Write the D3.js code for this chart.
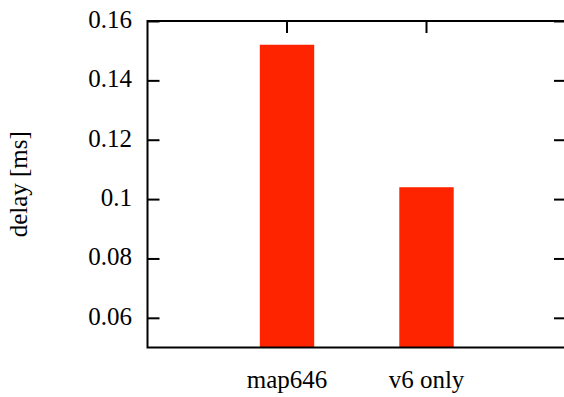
<!DOCTYPE html>
<html lang="en">
<head>
<meta charset="UTF-8">
<title>delay bars</title>
<script src="https://cdn.jsdelivr.net/npm/d3@7/dist/d3.min.js"></script>
<style>
  body { margin: 0; background: #fff; }
</style>
</head>
<body>
<svg></svg>
<script>
var categories = ['map646', 'v6 only'];
var delays = [0.152, 0.104];
var yTicks = [0.06, 0.08, 0.1, 0.12, 0.14, 0.16];

var width = 564, height = 397;
var margin = { top: 21, left: 147.5, bottom: 49.5, right: -2 };
var w = width - margin.left - margin.right;
var h = height - margin.top - margin.bottom;
var serif = '"Liberation Serif", "Times New Roman", Times, serif';
var fontSize = 25;

var svg = d3.select('svg')
    .attr('width', width)
    .attr('height', height)
    .style('display', 'block');

var g = svg.append('g')
    .attr('transform', 'translate(' + margin.left + ',' + margin.top + ')');

// categories sit at 1 and 2 on a 0..3 axis, like gnuplot does
var x = d3.scaleLinear().domain([0, 3]).range([0, w]);
var y = d3.scaleLinear().domain([0.05, 0.16]).range([h, 0]);
var step = x(1) - x(0);
var barW = step * 0.39;

g.selectAll('rect.bar')
    .data(delays)
    .enter().append('rect')
    .attr('class', 'bar')
    .attr('x', function (d, i) { return x(i + 1) - barW / 2; })
    .attr('y', function (d) { return y(d); })
    .attr('width', barW)
    .attr('height', function (d) { return h - y(d); })
    .attr('fill', '#ff2400');

var tickLen = 12;

// left axis, ticks inside
g.append('g')
    .call(d3.axisRight(y).tickValues(yTicks).tickSize(tickLen).tickFormat(''))
    .call(function (a) { a.select('.domain').remove(); })
    .selectAll('line').attr('stroke-width', 2);

// right mirror ticks
g.append('g')
    .attr('transform', 'translate(' + w + ',0)')
    .call(d3.axisLeft(y).tickValues(yTicks).tickSize(tickLen).tickFormat(''))
    .call(function (a) { a.select('.domain').remove(); })
    .selectAll('line').attr('stroke-width', 2);

// y tick labels
g.selectAll('text.ylab')
    .data(yTicks)
    .enter().append('text')
    .attr('class', 'ylab')
    .attr('x', -15.5)
    .attr('y', function (d) { return y(d); })
    .attr('dy', 7)
    .attr('text-anchor', 'end')
    .attr('font-family', serif)
    .attr('font-size', fontSize)
    .text(function (d) { return d3.format('')(d); });

// top mirror ticks at categories
g.selectAll('line.xtick')
    .data(categories)
    .enter().append('line')
    .attr('class', 'xtick')
    .attr('x1', function (d, i) { return x(i + 1); })
    .attr('x2', function (d, i) { return x(i + 1); })
    .attr('y1', 0)
    .attr('y2', tickLen)
    .attr('stroke', '#000')
    .attr('stroke-width', 2);

// category labels
g.selectAll('text.xlab')
    .data(categories)
    .enter().append('text')
    .attr('class', 'xlab')
    .attr('x', function (d, i) { return x(i + 1); })
    .attr('y', h + 40)
    .attr('text-anchor', 'middle')
    .attr('font-family', serif)
    .attr('font-size', fontSize)
    .text(function (d) { return d; });

// border
g.append('rect')
    .attr('x', 0)
    .attr('y', 0)
    .attr('width', w)
    .attr('height', h)
    .attr('fill', 'none')
    .attr('stroke', '#000')
    .attr('stroke-width', 2);

svg.append('text')
    .attr('transform', 'translate(27,' + (margin.top + h / 2) + ') rotate(-90)')
    .attr('text-anchor', 'middle')
    .attr('font-family', serif)
    .attr('font-size', fontSize)
    .text('delay [ms]');
</script>
</body>
</html>
